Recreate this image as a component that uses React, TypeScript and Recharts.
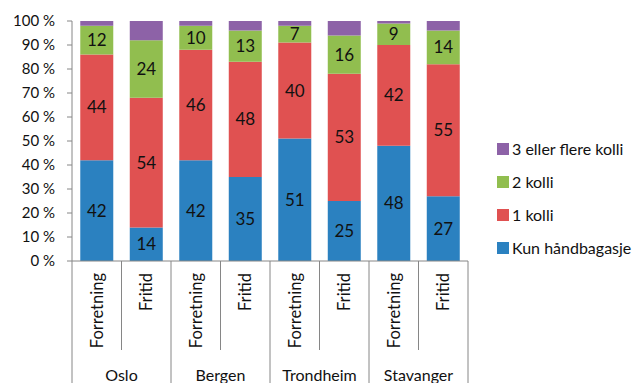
import { BarChart, Bar, XAxis, YAxis, Legend, LabelList } from "recharts"

const categories = ["Forretning", "Fritid", "Forretning", "Fritid", "Forretning", "Fritid", "Forretning", "Fritid"]
const cities = ["Oslo", "Bergen", "Trondheim", "Stavanger"]

const kunHandbagasje = [42, 14, 42, 35, 51, 25, 48, 27]
const enKolli = [44, 54, 46, 48, 40, 53, 42, 55]
const toKolli = [12, 24, 10, 13, 7, 16, 9, 14]
const treEllerFlere = [2, 8, 2, 4, 2, 6, 1, 4]

const yTicks = [0, 10, 20, 30, 40, 50, 60, 70, 80, 90, 100]

const series = [
  { key: "hand", name: "Kun håndbagasje", color: "#2B81C0", labelled: true },
  { key: "en", name: "1 kolli", color: "#E05151", labelled: true },
  { key: "to", name: "2 kolli", color: "#91BE4F", labelled: true },
  { key: "tre", name: "3 eller flere kolli", color: "#8D62A7", labelled: false },
]

const data = categories.map((cat, i) => ({
  name: cat,
  city: cities[Math.floor(i / 2)],
  hand: kunHandbagasje[i],
  en: enKolli[i],
  to: toKolli[i],
  tre: treEllerFlere[i],
}))

const FONT = "Lato, 'Noto Sans', sans-serif"
const AXIS_COLOR = "#868686"
const TEXT_COLOR = "#111"

const CHART_W = 636
const CHART_H = 375
const MARGIN = { top: 13, right: 176, left: 0, bottom: 0 }
const Y_W = 64
const X_H = 122
const STEP = (CHART_W - MARGIN.left - MARGIN.right - Y_W) / categories.length

// category label rotated, plus the short/long divider lines and the city name under each pair
function CategoryTick(props: any) {
  const { x, y, payload } = props
  const i = payload.index ?? props.index ?? 0
  const half = STEP / 2
  const groupEnd = i % 2 === 1
  return (
    <g>
      {i === 0 && (
        <line x1={x - half} x2={x - half} y1={y} y2={y + X_H} stroke={AXIS_COLOR} strokeWidth={1} />
      )}
      <line
        x1={x + half}
        x2={x + half}
        y1={y}
        y2={groupEnd ? y + X_H : y + 89}
        stroke={AXIS_COLOR}
        strokeWidth={1}
      />
      <text
        transform={`translate(${x},${y + 12}) rotate(-90)`}
        textAnchor="end"
        dy="0.35em"
        fontSize={16.5}
        fontFamily={FONT}
        fill={TEXT_COLOR}
      >
        {payload.value}
      </text>
      {groupEnd && (
        <text x={x - half} y={y + 120} textAnchor="middle" fontSize={16} fontFamily={FONT} fill={TEXT_COLOR}>
          {data[i].city}
        </text>
      )}
    </g>
  )
}

function LegendBox() {
  return (
    <div style={{ fontFamily: FONT, fontSize: 16, color: TEXT_COLOR }}>
      {[...series].reverse().map((s) => (
        <div key={s.key} style={{ display: "flex", alignItems: "center", height: 33 }}>
          <span style={{ width: 12, height: 12, background: s.color, marginRight: 3, display: "inline-block" }} />
          <span style={{ whiteSpace: "nowrap" }}>{s.name}</span>
        </div>
      ))}
    </div>
  )
}

export default function App() {
  return (
    <BarChart width={CHART_W} height={CHART_H} data={data} margin={MARGIN} barCategoryGap="16.7%">
      <YAxis
        type="number"
        domain={[0, 100]}
        ticks={yTicks}
        width={Y_W}
        tickFormatter={(v: number) => `${v} %`}
        stroke={AXIS_COLOR}
        tickSize={5}
        tickMargin={12}
        tick={{ fill: TEXT_COLOR, fontSize: 15, fontFamily: FONT }}
        interval={0}
      />
      <XAxis
        dataKey="name"
        height={X_H}
        interval={0}
        tickLine={false}
        tickSize={0}
        tickMargin={0}
        stroke={AXIS_COLOR}
        tick={<CategoryTick />}
      />
      <Legend
        layout="vertical"
        align="center"
        verticalAlign="middle"
        wrapperStyle={{ left: 489, top: 124, width: 150 }}
        content={<LegendBox />}
      />
      {series.map((s) => (
        <Bar key={s.key} dataKey={s.key} name={s.name} stackId="a" fill={s.color} isAnimationActive={false}>
          {s.labelled && (
            <LabelList
              dataKey={s.key}
              position="center"
              fill={TEXT_COLOR}
              fontSize={17}
              fontFamily={FONT}
            />
          )}
        </Bar>
      ))}
    </BarChart>
  )
}
